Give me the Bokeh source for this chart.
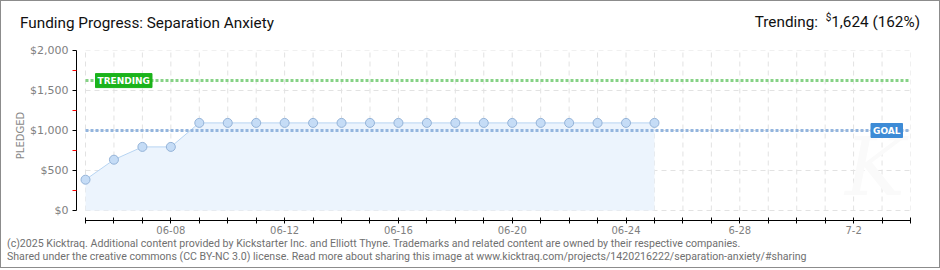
from bokeh.plotting import figure
from bokeh.models import Range1d, FixedTicker, Label, ColumnDataSource, Div
from bokeh.layouts import column
from bokeh.embed import file_html
from bokeh.resources import INLINE

# ---- data ----
day_labels = ["06-05", "06-06", "06-07", "06-08", "06-09", "06-10", "06-11", "06-12",
              "06-13", "06-14", "06-15", "06-16", "06-17", "06-18", "06-19", "06-20",
              "06-21", "06-22", "06-23", "06-24", "06-25", "06-26", "06-27", "6-28",
              "06-29", "06-30", "07-01", "7-2", "07-03", "07-04"]
shown_ticks = ["06-08", "06-12", "06-16", "06-20", "06-24", "6-28", "7-2"]
pledged = [385, 635, 795, 795, 1095, 1095, 1095, 1095, 1095, 1095, 1095,
           1095, 1095, 1095, 1095, 1095, 1095, 1095, 1095, 1095, 1095]
goal = 1000
trending = 1624
trending_pct = 162
y_ticks = [0, 500, 1000, 1500, 2000]
y_minor = [250, 750, 1250, 1750]
title = "Funding Progress: Separation Anxiety"
footer1 = ("(c)2025 Kicktraq. Additional content provided by Kickstarter Inc. and Elliott Thyne. "
           "Trademarks and related content are owned by their respective companies.")
footer2 = ("Shared under the creative commons (CC BY-NC 3.0) license. Read more about sharing this "
           "image at www.kicktraq.com/projects/1420216222/separation-anxiety/#sharing")

days_all = list(range(len(day_labels)))
days = list(range(len(pledged)))
last_day = days_all[-1]

W = 938

header = Div(width=W, height=39, text=(
    '<div style="position:relative;width:938px;height:39px;font-family:Roboto;font-size:15.3px;color:#111;">'
    '<span style="position:absolute;left:19px;top:12px;">' + title + '</span>'
    '<span style="position:absolute;right:19px;top:10px;">Trending:&nbsp; <sup style="font-size:10px;">$</sup>'
    + "{:,}".format(trending) + ' (' + str(trending_pct) + '%)</span></div>'),
    styles={"margin": "0", "padding": "0"})

p = figure(width=W, height=196, output_backend="svg", toolbar_location=None,
           x_range=Range1d(-0.3164, last_day), y_range=Range1d(-125, 2000),
           min_border_left=75, min_border_right=29, min_border_top=10, min_border_bottom=16)
p.outline_line_color = None
p.xgrid.visible = False
p.ygrid.visible = False

# watermark
p.add_layout(Label(x=last_day - 2.3, y=-40, text="K", text_font="DejaVu Serif", text_font_style="italic",
                   text_font_size="80px", text_color="#fafafa", text_baseline="bottom", text_align="left"))

# grid lines (dashed)
p.segment(x0=days_all, x1=days_all, y0=[y_ticks[0]] * len(days_all), y1=[y_ticks[-1]] * len(days_all),
          line_color="#e2e2e2", line_dash="5 4", line_width=1)
p.segment(x0=[days_all[0]] * len(y_ticks), x1=[last_day] * len(y_ticks), y0=y_ticks, y1=y_ticks,
          line_color="#e2e2e2", line_dash="5 4", line_width=1)

# area + line
src = ColumnDataSource(dict(x=days, y=pledged, z=[0] * len(days)))
p.varea(x="x", y1="z", y2="y", source=src, fill_color="#ecf4fd")
p.line(x="x", y="y", source=src, line_color="#b7d4f2", line_width=1)

# goal and trending lines
p.segment(x0=[days_all[0]], x1=[last_day], y0=[trending], y1=[trending],
          line_color="#86d286", line_width=3, line_dash="3 2")
p.segment(x0=[days_all[0]], x1=[last_day], y0=[goal], y1=[goal],
          line_color="#93b5de", line_width=3, line_dash="3 2")

p.scatter(x="x", y="y", source=src, size=9, fill_color="#c5dcf6", line_color="#94b3d8", line_width=1)

# axes
p.yaxis.ticker = FixedTicker(ticks=y_ticks, minor_ticks=y_minor)
p.yaxis.bounds = (y_ticks[0], y_ticks[-1])
p.yaxis.major_label_overrides = {t: "${:,}".format(t) for t in y_ticks}
p.yaxis.major_tick_in = 0
p.yaxis.major_tick_out = 4
p.yaxis.minor_tick_in = 0
p.yaxis.minor_tick_out = 4
p.yaxis.minor_tick_line_color = "red"
p.yaxis.axis_line_color = "black"
p.yaxis.major_tick_line_color = "black"
p.yaxis.major_label_text_color = "#808080"
p.yaxis.major_label_text_font = "DejaVu Sans"
p.yaxis.major_label_text_font_size = "11px"
p.yaxis.major_label_standoff = 4
p.yaxis.axis_label = "PLEDGED"
p.yaxis.axis_label_text_font = "DejaVu Sans"
p.yaxis.axis_label_text_font_size = "10px"
p.yaxis.axis_label_text_font_style = "normal"
p.yaxis.axis_label_text_color = "#888888"
p.yaxis.axis_label_standoff = 1

p.xaxis.ticker = FixedTicker(ticks=days_all, minor_ticks=[])
p.xaxis.bounds = (days_all[0], last_day)
p.xaxis.major_label_overrides = {i: (lab if lab in shown_ticks else "") for i, lab in enumerate(day_labels)}
p.xaxis.major_tick_in = 3
p.xaxis.major_tick_out = 3
p.xaxis.axis_line_color = "black"
p.xaxis.major_tick_line_color = "black"
p.xaxis.major_label_text_color = "#808080"
p.xaxis.major_label_text_font = "DejaVu Sans"
p.xaxis.major_label_text_font_size = "10px"
p.xaxis.major_label_standoff = 2

# labels on lines
p.add_layout(Label(x=days_all[0], y=trending, x_offset=10, text="TRENDING", text_color="white",
                   text_font="DejaVu Sans", text_font_size="9px", text_font_style="bold",
                   text_baseline="middle", text_align="left",
                   background_fill_color="#1bb31b", border_line_color="#1bb31b", padding=2))
p.add_layout(Label(x=last_day, y=goal, x_offset=-8, text="GOAL", text_color="white",
                   text_font="DejaVu Sans", text_font_size="9px", text_font_style="bold",
                   text_baseline="middle", text_align="right",
                   background_fill_color="#3d8bd6", border_line_color="#3d8bd6", padding=2))

footer = Div(width=W, height=31, text=(
    '<div style="font-family:Roboto;font-size:10.6px;line-height:13px;color:#707070;'
    'padding:1px 0 0 6px;white-space:nowrap;">' + footer1 + '<br>' + footer2 + '</div>'),
    styles={"margin": "0", "padding": "0"})

layout = column(header, p, footer, spacing=0,
                styles={"border": "1px solid #8c8c8c", "background-color": "white"})

open("out.html", "w").write(file_html(layout, INLINE))
